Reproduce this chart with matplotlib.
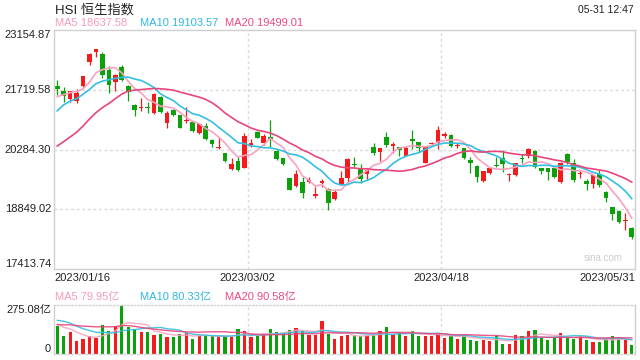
import matplotlib
matplotlib.use('Agg')
import matplotlib.pyplot as plt
import numpy as np
from matplotlib.transforms import blended_transform_factory

plt.rcParams['font.family'] = ['Liberation Sans', 'Noto Sans CJK SC', 'DejaVu Sans']

title = "HSI 恒生指数"
timestamp = "05-31 12:47"
date_labels = ["2023/01/16", "2023/03/02", "2023/04/18", "2023/05/31"]
y_ticks = [17413.74, 18849.02, 20284.30, 21719.58, 23154.87]
vol_max = 275.08
ma_names = ["MA5", "MA10", "MA20"]
ma_windows = [5, 10, 20]
ma_price_text = ["18637.58", "19103.57", "19499.01"]
ma_vol_text = ["79.95亿", "80.33亿", "90.58亿"]
vol_tick_labels = ["275.08亿", "0"]

# closes of the 19 sessions before the first candle (needed for moving averages)
prior_close = [19450.67, 19450.23, 19352.81, 19094.80, 19160.49, 19679.22, 19593.06,
               19898.91, 19741.14, 19781.41, 20145.29, 20793.11, 21052.17, 20991.64,
               21388.34, 21331.46, 21436.05, 21514.10, 21738.66]
prior_volume = [120, 125, 160, 150, 130, 140, 150, 145, 140, 150,
                150, 230, 240, 230, 200, 190, 170, 160, 161]

opens = [
    21810, 21680, 21500, 21449, 21817, 22394, 22620, 22578, 22194, 21913,
    22259, 21810, 21353, 21270, 21300, 21154, 21554, 20913, 21233, 21113,
    20960, 20952, 20688, 20849, 20513, 20320, 20193, 19816, 20008, 19847,
    20400, 20712, 20440, 20590, 20256, 20073, 19593, 19408, 19511, 19504,
    19170, 19490, 19343, 19103, 19432, 19607, 19940, 19832, 19696, 20337,
    20217, 20577, 20380, 20337, 20136, 20529, 20457, 19968, 20410, 20433,
    20620, 20633, 20369, 20313, 20032, 19896, 19528, 19712, 19920, 20073,
    19670, 19672, 20070, 20130, 20248, 19833, 19833, 19833, 19511, 20176,
    19960, 19700, 19528, 19456, 19689, 19271, 18903, 18807, 18570, 18399]
highs = [
    21954, 21793, 21697, 21730, 22060, 22595, 22700, 22618, 22290, 22100,
    22314, 21830, 21370, 21514, 21433, 21650, 21580, 21216, 21250, 21120,
    21313, 20980, 20913, 20929, 20530, 20592, 20210, 20073, 20112, 20673,
    20529, 20730, 20650, 20993, 20270, 20090, 19610, 19792, 19630, 19615,
    19390, 19575, 19360, 19300, 19768, 20080, 20112, 19936, 19833, 20433,
    20313, 20712, 20473, 20340, 20340, 20753, 20473, 20360, 20473, 20856,
    20713, 20650, 20433, 20330, 20112, 19912, 19770, 19860, 20112, 20272,
    19727, 19960, 20176, 20313, 20272, 19850, 19850, 19850, 19990, 20200,
    20050, 19792, 19568, 19700, 19792, 19295, 18910, 18820, 18751, 18415]
lows = [
    21593, 21418, 21433, 21394, 21795, 22314, 22497, 21994, 21634, 21697,
    21936, 21449, 21089, 21200, 21169, 21130, 21150, 20793, 21080, 20790,
    20913, 20700, 20660, 20513, 20337, 20296, 19990, 19792, 19775, 19833,
    20337, 20550, 20400, 20352, 20030, 19900, 19300, 19390, 19112, 19470,
    19112, 19390, 18831, 19060, 19420, 19511, 19872, 19488, 19551, 20150,
    20015, 20352, 20193, 20130, 20120, 20289, 20232, 19950, 20377, 20297,
    20553, 20350, 20313, 20060, 19727, 19511, 19511, 19690, 19872, 19751,
    19535, 19650, 19952, 20073, 19833, 19700, 19552, 19610, 19490, 19930,
    19500, 19592, 19311, 19350, 19390, 19030, 18590, 18520, 18350, 18126]
closes = [
    21746.72, 21577.64, 21678.00, 21650.98, 22044.65, 22566.78, 22688.90, 22069.73, 21842.33, 22072.18,
    21958.36, 21660.47, 21222.16, 21298.70, 21283.52, 21624.36, 21190.42, 21164.42, 21113.76, 20812.17,
    20987.67, 20719.81, 20886.96, 20529.49, 20423.84, 20351.35, 20010.04, 19943.51, 19785.94, 20619.71,
    20429.46, 20567.54, 20603.19, 20534.48, 20051.25, 19925.74, 19319.92, 19695.97, 19247.96, 19539.87,
    19203.91, 19518.59, 19000.71, 19258.76, 19591.43, 20049.64, 19915.68, 19567.69, 19784.65, 20192.40,
    20309.13, 20400.11, 20409.18, 20274.62, 20332.23, 20485.24, 20309.90, 20344.46, 20438.81, 20760.00,
    20650.51, 20367.76, 20396.97, 20075.73, 19959.94, 19617.88, 19757.27, 19840.28, 19894.57, 19933.81,
    19699.16, 19948.73, 20049.31, 20297.03, 19867.58, 19762.20, 19743.90, 19627.24, 19971.13, 19978.25,
    19560.57, 19727.25, 19450.57, 19678.16, 19431.25, 19115.93, 18746.92, 18551.11, 18595.78, 18178.20]
volumes = [
    159, 99, 125, 71, 86, 99, 92, 165, 131, 159,
    275.08, 150, 142, 122, 125, 108, 114, 94, 94, 114,
    118, 86, 103, 103, 99, 99, 99, 94, 142, 131,
    94, 99, 108, 142, 125, 118, 137, 148, 131, 108,
    108, 183, 114, 86, 99, 108, 108, 99, 103, 108,
    131, 153, 108, 118, 103, 131, 103, 103, 103, 114,
    92, 99, 86, 108, 80, 75, 80, 75, 99, 58,
    58, 106, 103, 128, 134, 92, 80, 92, 118, 92,
    86, 103, 80, 69, 66, 84, 100, 88, 80, 48]

UP = '#f31b1b'
DOWN = '#0ba10b'
MA_COLORS = ['#f8a2c0', '#35bfe2', '#e8457b']
MA_TEXT_COLORS = ['#f59ab9', '#2fb8de', '#ec4a7f']
GRID = '#d9d9d9'
TXT = '#222222'

o = np.array(opens, float); h = np.array(highs, float)
l = np.array(lows, float); c = np.array(closes, float)
v = np.array(volumes, float)
n = len(c)
x = np.arange(n)
up = c >= o
cols = np.where(up, UP, DOWN)

def moving_avg(prior, vals, w):
    full = np.concatenate([np.array(prior, float), vals])
    k = len(prior)
    return np.array([full[k + i - w + 1:k + i + 1].mean() for i in range(len(vals))])

W, H = 640, 360
fig = plt.figure(figsize=(6.4, 3.6), dpi=100)
fig.patch.set_facecolor('white')

ax = fig.add_axes([54 / W, 1 - 269 / H, 581 / W, 239 / H])
vax = fig.add_axes([54 / W, 1 - 354 / H, 581 / W, 49 / H])

ymin, ymax = y_ticks[0], y_ticks[-1]
ax.set_ylim(ymin, ymax)
ax.set_xlim(-0.5, n - 0.5)
vax.set_ylim(0, vol_max)
vax.set_xlim(-0.5, n - 0.5)

# grid
for t in y_ticks[1:-1]:
    ax.axhline(t, color=GRID, lw=1.0, ls=(0, (2, 2)), zorder=0)
vpos = [-0.5 + k * n / 3 for k in range(4)]
for xp in vpos[1:3]:
    ax.axvline(xp, color=GRID, lw=1.0, ls=(0, (2, 2)), zorder=0)
    vax.axvline(xp, color=GRID, lw=1.0, ls=(0, (2, 2)), zorder=0)

# candles
min_h = (ymax - ymin) / 239 * 1.0
body_bottom = np.minimum(o, c)
body_h = np.maximum(np.abs(c - o), min_h)
ax.vlines(x, l, h, colors=cols, lw=0.9, zorder=2)
ax.bar(x, body_h, bottom=body_bottom, width=0.72, color=cols, lw=0, zorder=2)

# price MAs
for w, col in zip(ma_windows, MA_COLORS):
    ax.plot(x, moving_avg(prior_close, c, w), color=col, lw=1.2, zorder=3)

# volume bars + MAs
vax.bar(x, v, width=0.5, color=cols, lw=0, zorder=2)
for w, col in zip(ma_windows, MA_COLORS):
    vax.plot(x, moving_avg(prior_volume, v, w), color=col, lw=1.0, zorder=3, alpha=0.9)

# spines
for a in (ax, vax):
    a.set_xticks([]); a.set_yticks([])
    for s in a.spines.values():
        s.set_color('#cfcfcf'); s.set_linewidth(1.0)
for s in ('top', 'bottom'):
    vax.spines[s].set_linestyle((0, (1, 1.5)))
    vax.spines[s].set_color('#d5d5d5')

# y labels
tr = blended_transform_factory(ax.transAxes, ax.transData)
for i, t in enumerate(y_ticks):
    va = 'bottom' if i == 0 else ('top' if i == len(y_ticks) - 1 else 'center')
    ax.text(-0.005, t, f"{t:.2f}", transform=tr, ha='right', va=va, fontsize=8, color=TXT)

vtr = blended_transform_factory(vax.transAxes, vax.transData)
vax.text(-0.005, vol_max, vol_tick_labels[0], transform=vtr, ha='right', va='top', fontsize=8, color=TXT)
vax.text(-0.005, 0, vol_tick_labels[1], transform=vtr, ha='right', va='bottom', fontsize=8, color=TXT)

# x labels
xtr = blended_transform_factory(ax.transData, ax.transAxes)
has = ['left', 'center', 'center', 'right']
for xp, lab, ha in zip(vpos, date_labels, has):
    ax.text(xp, -9 / 239, lab, transform=xtr, ha=ha, va='center', fontsize=8, color=TXT)

# header texts
fig.text(55 / W, 1 - 10 / H, title, ha='left', va='center', fontsize=9.5, color=TXT)
fig.text(634 / W, 1 - 10 / H, timestamp, ha='right', va='center', fontsize=7.5, color=TXT)
hx = [55, 140, 225]
for xx, nm, val, col in zip(hx, ma_names, ma_price_text, MA_TEXT_COLORS):
    fig.text(xx / W, 1 - 23 / H, f"{nm} {val}", ha='left', va='center', fontsize=8, color=col)
for xx, nm, val, col in zip(hx, ma_names, ma_vol_text, MA_TEXT_COLORS):
    fig.text(xx / W, 1 - 297 / H, f"{nm} {val}", ha='left', va='center', fontsize=8, color=col)

ax.text(0.978, 11 / 239, "sina.com", transform=ax.transAxes, ha='right', va='center',
        fontsize=7, color='#cccccc')

fig.savefig('out.png', dpi=100, facecolor='white')
